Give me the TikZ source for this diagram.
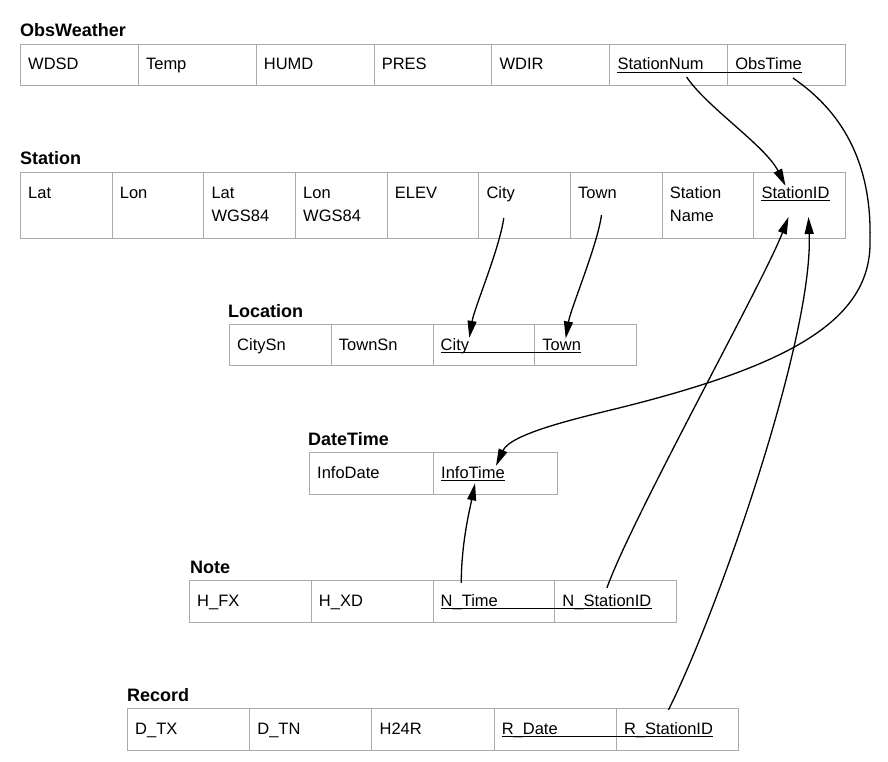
\documentclass[tikz,border=0pt]{standalone}
\usepackage{fontspec}
\setmainfont{Liberation Sans}
\usepackage{tikz}
\usetikzlibrary{arrows.meta,calc}

\tikzset{
  cell/.style={draw=black!33, line width=1pt, anchor=north west, inner sep=0pt, minimum height=#1},
  cell/.default=41pt,
  field/.style={anchor=base west, inner sep=0pt, font=\fontsize{16.5}{24}\selectfont},
  tabletitle/.style={anchor=base west, inner sep=0pt, font=\fontsize{18}{20}\selectfont\bfseries},
  keyline/.style={line width=1.2pt},
  link/.style={line width=1.3pt, -{Triangle[length=17pt,width=9pt]}}
}
\newcommand{\twolines}[2]{\parbox[t]{80pt}{#1\\#2}}

\begin{document}
\begin{tikzpicture}[x=1pt,y=-1pt]
\useasboundingbox (0,0) rectangle (888,762);

% ObsWeather
\node[tabletitle] (obsweather) at (20,37) {ObsWeather};
\foreach \f [count=\i] in {WDSD,Temp,HUMD,PRES,WDIR,StationNum,ObsTime}{
  \node[cell, minimum width=117.86pt] (ow\i) at ({20+(\i-1)*117.86},44) {};
  \node[field] (owf\i) at ($(ow\i.north west)+(8,26)$) {\f};
}
\draw[keyline] ([yshift=-2.5pt]owf6.base west) -- ([yshift=-2.5pt]owf7.base east);

% Station
\node[tabletitle] (station) at (20,165) {Station};
\foreach \f [count=\i] in {Lat,Lon,\twolines{Lat}{WGS84},\twolines{Lon}{WGS84},ELEV,City,Town,\twolines{Station}{Name},StationID}{
  \node[cell=66pt, minimum width=91.67pt] (st\i) at ({20+(\i-1)*91.67},172) {};
  \node[field] (stf\i) at ($(st\i.north west)+(8,26)$) {\f};
}
\draw[keyline] ([yshift=-2.5pt]stf9.base west) -- ([yshift=-2.5pt]stf9.base east);

% Location
\node[tabletitle] (location) at (228,317) {Location};
\foreach \f [count=\i] in {CitySn,TownSn,City,Town}{
  \node[cell, minimum width=101.75pt] (lo\i) at ({229+(\i-1)*101.75},324) {};
  \node[field] (lof\i) at ($(lo\i.north west)+(8,26)$) {\f};
}
\draw[keyline] ([yshift=-2.5pt]lof3.base west) -- ([yshift=-2.5pt]lof4.base east);

% DateTime
\node[tabletitle] (datetime) at (308,445) {DateTime};
\foreach \f [count=\i] in {InfoDate,InfoTime}{
  \node[cell=42pt, minimum width=124pt] (dt\i) at ({309+(\i-1)*124},452) {};
  \node[field] (dtf\i) at ($(dt\i.north west)+(8,26)$) {\f};
}
\draw[keyline] ([yshift=-2.5pt]dtf2.base west) -- ([yshift=-2.5pt]dtf2.base east);

% Note
\node[tabletitle] (note) at (190,573) {Note};
\foreach \f [count=\i] in {H\_FX,H\_XD,N\_Time,N\_StationID}{
  \node[cell=42pt, minimum width=121.75pt] (no\i) at ({189+(\i-1)*121.75},580) {};
  \node[field] (nof\i) at ($(no\i.north west)+(8,26)$) {\f};
}
\draw[keyline] ([yshift=-2.5pt]nof3.base west) -- ([yshift=-2.5pt]nof4.base east);

% Record
\node[tabletitle] (record) at (127,701) {Record};
\foreach \f [count=\i] in {D\_TX,D\_TN,H24R,R\_Date,R\_StationID}{
  \node[cell=42pt, minimum width=122.2pt] (rc\i) at ({127+(\i-1)*122.2},708) {};
  \node[field] (rf\i) at ($(rc\i.north west)+(8,26)$) {\f};
}
\draw[keyline] ([yshift=-2.5pt]rf4.base west) -- ([yshift=-2.5pt]rf5.base east);

% links
\draw[link] ([xshift=26pt,yshift=-7pt]owf6.base) .. controls +(20,30) and +(-20,-40) .. ([xshift=-10pt]stf9.north);
\draw[link] ([xshift=-9pt,yshift=-8pt]owf7.base east) .. controls +(47,32) and +(2,-80) .. (870,240)
  .. controls +(2,80) and +(167,-42) .. (623,407)
  .. controls +(-40,10) and +(15,-33) .. ([xshift=23pt]dtf2.north);
\draw[link] ([xshift=3pt,yshift=-20pt]stf6.base) .. controls +(-4,30) and +(5,-30) .. (lof3.north east);
\draw[link] ([xshift=4pt,yshift=-17pt]stf7.base) .. controls +(-4,30) and +(5,-30) .. ([xshift=4pt]lof4.north);
\draw[link] ([xshift=-8pt,yshift=11pt]nof3.north) .. controls +(0,-40) and +(-5,25) .. ([xshift=2pt,yshift=-5pt]dtf2.south);
\draw[link] ([yshift=6pt]nof4.north) .. controls +(25,-70) and +(-25,65) .. ([xshift=-7pt,yshift=-19pt]stf9.base);
\draw[link] ([yshift=12pt]rf5.north) .. controls +(50,-100) and +(5,120) .. ([xshift=13pt,yshift=-19pt]stf9.base);
\end{tikzpicture}
\end{document}
